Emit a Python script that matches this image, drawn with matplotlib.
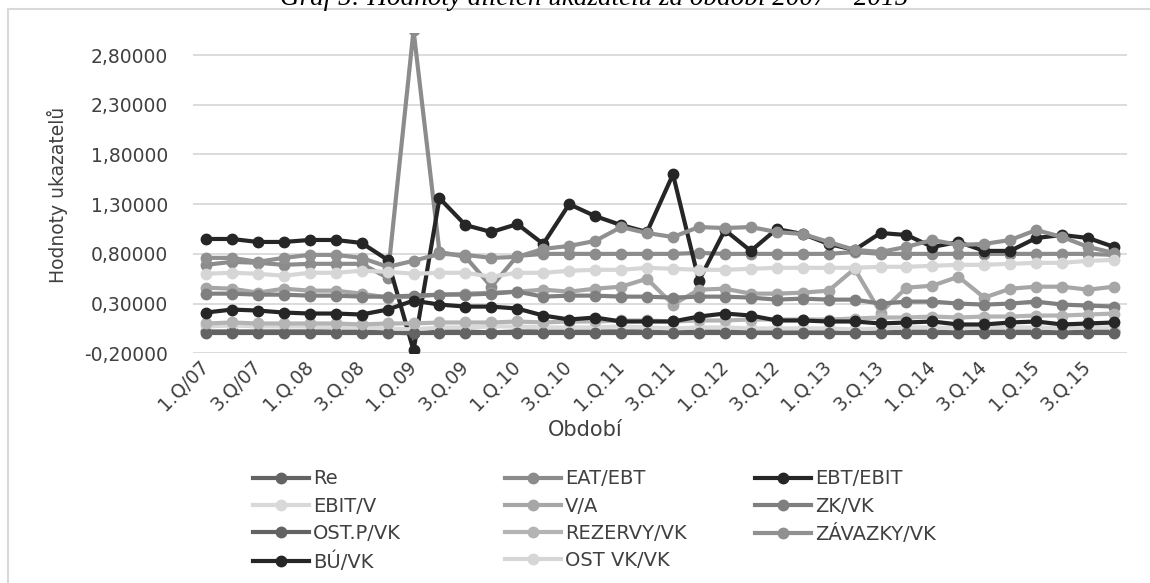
import matplotlib
matplotlib.use('Agg')
import matplotlib.pyplot as plt
from matplotlib.ticker import FuncFormatter
from matplotlib.patches import Rectangle
import numpy as np

# Quarters 2007 - 2015
periods = ['1.Q/07', '2.Q/07', '3.Q/07', '4.Q/07',
           '1.Q.08', '2.Q.08', '3.Q.08', '4.Q.08',
           '1.Q.09', '2.Q.09', '3.Q.09', '4.Q.09',
           '1.Q.10', '2.Q.10', '3.Q.10', '4.Q.10',
           '1.Q.11', '2.Q.11', '3.Q.11', '4.Q.11',
           '1.Q.12', '2.Q.12', '3.Q.12', '4.Q.12',
           '1.Q.13', '2.Q.13', '3.Q.13', '4.Q.13',
           '1.Q.14', '2.Q.14', '3.Q.14', '4.Q.14',
           '1.Q.15', '2.Q.15', '3.Q.15', '4.Q.15']

re = [0.02, 0.02, 0.02, 0.02, 0.02, 0.02, 0.02, 0.01, 0.00, 0.02, 0.02, 0.01,
      0.02, 0.02, 0.02, 0.02, 0.02, 0.02, 0.01, 0.02, 0.02, 0.02, 0.02, 0.02,
      0.02, 0.01, 0.01, 0.02, 0.02, 0.01, 0.02, 0.02, 0.02, 0.01, 0.02, 0.02]
eat_ebt = [0.69, 0.72, 0.71, 0.69, 0.70, 0.70, 0.70, 0.56, 3.05, 0.82, 0.77, 0.47,
           0.78, 0.80, 0.80, 0.80, 0.80, 0.80, 0.80, 0.81, 0.80, 0.80, 0.80, 0.80,
           0.80, 0.82, 0.80, 0.80, 0.80, 0.80, 0.80, 0.80, 0.80, 0.80, 0.80, 0.79]
ebt_ebit = [0.95, 0.95, 0.92, 0.92, 0.94, 0.94, 0.91, 0.74, -0.17, 1.36, 1.09, 1.02,
            1.10, 0.90, 1.30, 1.18, 1.09, 1.02, 1.60, 0.53, 1.04, 0.83, 1.05, 1.00,
            0.90, 0.84, 1.01, 0.99, 0.87, 0.92, 0.83, 0.83, 0.96, 0.99, 0.96, 0.87]
ebit_v = [0.07, 0.08, 0.07, 0.07, 0.07, 0.06, 0.06, 0.05, 0.04, 0.06, 0.06, 0.07,
          0.07, 0.06, 0.06, 0.06, 0.07, 0.06, 0.05, 0.06, 0.06, 0.05, 0.05, 0.05,
          0.05, 0.04, 0.05, 0.06, 0.06, 0.05, 0.06, 0.06, 0.06, 0.05, 0.06, 0.06]
v_a = [0.46, 0.45, 0.41, 0.45, 0.43, 0.43, 0.40, 0.36, 0.37, 0.39, 0.40, 0.41,
       0.42, 0.44, 0.42, 0.45, 0.47, 0.55, 0.29, 0.44, 0.45, 0.40, 0.40, 0.41,
       0.43, 0.65, 0.21, 0.46, 0.48, 0.57, 0.36, 0.45, 0.47, 0.47, 0.44, 0.47]
zk_vk = [0.40, 0.40, 0.39, 0.39, 0.38, 0.38, 0.37, 0.37, 0.38, 0.39, 0.39, 0.40,
         0.42, 0.37, 0.38, 0.38, 0.37, 0.37, 0.36, 0.37, 0.37, 0.36, 0.34, 0.35,
         0.34, 0.34, 0.30, 0.32, 0.32, 0.30, 0.29, 0.30, 0.32, 0.29, 0.28, 0.27]
ost_p_vk = [0.00, 0.00, 0.00, 0.00, 0.00, 0.00, 0.00, 0.00, 0.00, 0.00, 0.00, 0.00,
            0.00, 0.00, 0.00, 0.00, 0.00, 0.00, 0.00, 0.00, 0.00, 0.00, 0.00, 0.00,
            0.00, 0.00, 0.00, 0.00, 0.00, 0.00, 0.00, 0.00, 0.00, 0.00, 0.00, 0.00]
rezervy_vk = [0.10, 0.11, 0.10, 0.10, 0.10, 0.10, 0.09, 0.10, 0.10, 0.11, 0.11, 0.11,
              0.12, 0.11, 0.12, 0.12, 0.13, 0.13, 0.12, 0.13, 0.13, 0.14, 0.14, 0.14,
              0.14, 0.15, 0.16, 0.16, 0.17, 0.16, 0.17, 0.17, 0.18, 0.18, 0.19, 0.20]
zavazky_vk = [0.76, 0.76, 0.72, 0.76, 0.79, 0.79, 0.76, 0.67, 0.73, 0.80, 0.79, 0.76,
              0.77, 0.85, 0.88, 0.93, 1.07, 1.01, 0.97, 1.07, 1.06, 1.07, 1.02, 1.00,
              0.92, 0.84, 0.82, 0.87, 0.94, 0.89, 0.90, 0.94, 1.04, 0.97, 0.87, 0.81]
bu_vk = [0.21, 0.24, 0.23, 0.21, 0.20, 0.20, 0.19, 0.24, 0.33, 0.29, 0.27, 0.27,
         0.25, 0.18, 0.14, 0.16, 0.12, 0.12, 0.12, 0.17, 0.20, 0.18, 0.13, 0.13,
         0.12, 0.12, 0.10, 0.11, 0.12, 0.09, 0.09, 0.11, 0.12, 0.09, 0.10, 0.11]
ost_vk_vk = [0.60, 0.61, 0.60, 0.58, 0.61, 0.61, 0.63, 0.62, 0.60, 0.61, 0.61, 0.57,
             0.61, 0.61, 0.63, 0.64, 0.64, 0.66, 0.65, 0.64, 0.64, 0.65, 0.66, 0.66,
             0.66, 0.66, 0.67, 0.67, 0.68, 0.69, 0.69, 0.70, 0.71, 0.71, 0.73, 0.74]

names = ['Re', 'EAT/EBT', 'EBT/EBIT', 'EBIT/V', 'V/A', 'ZK/VK',
         'OST.P/VK', 'REZERVY/VK', 'ZÁVAZKY/VK', 'BÚ/VK', 'OST VK/VK']
values = [re, eat_ebt, ebt_ebit, ebit_v, v_a, zk_vk,
          ost_p_vk, rezervy_vk, zavazky_vk, bu_vk, ost_vk_vk]
colors = ['#636363', '#8c8c8c', '#262626', '#d9d9d9', '#a6a6a6', '#7f7f7f',
          '#636363', '#b4b4b4', '#909090', '#262626', '#d6d6d6']

text_color = '#404040'
W, H = 1150, 583

fig = plt.figure(figsize=(W / 100, H / 100), dpi=100, facecolor='white')
ax = fig.add_axes([193 / W, 1 - 353.3 / H, 934 / W, 320.1 / H])

x = np.arange(len(periods))
for name, vals, col in zip(names, values, colors):
    ax.plot(x, vals, color=col, lw=3, marker='o', ms=7.5, label=name,
            solid_joinstyle='round')

ax.set_xlim(-0.5, len(periods) - 0.5)
ax.set_ylim(-0.2, 3.02)
ax.set_yticks(np.arange(-0.2, 2.81, 0.5))
ax.yaxis.set_major_formatter(FuncFormatter(lambda v, p: f'{v:.5f}'.replace('.', ',')))
ax.set_xticks(x[::2])
ax.set_xticklabels(periods[::2], rotation=45, ha='right', va='center',
                   rotation_mode='anchor')

ax.yaxis.grid(True, color='#d9d9d9', lw=1.3)
ax.set_axisbelow(True)
for s in ax.spines.values():
    s.set_visible(False)
ax.tick_params(axis='y', length=0, pad=18, labelsize=13.5, labelcolor=text_color)
ax.tick_params(axis='x', length=0, pad=7, labelsize=13.5, labelcolor=text_color)

# axis titles
fig.text(57 / W, 1 - 195 / H, 'Hodnoty ukazatelů', rotation=90, ha='center',
         va='center', fontsize=13.5, color=text_color)
fig.text(585 / W, 1 - 430 / H, 'Období', ha='center', va='center',
         fontsize=15, color=text_color)

# title, cut by the top edge like in the source
fig.text(594 / W, 1 - 5 / H, 'Graf 5: Hodnoty dílčích ukazatelů za období 2007 – 2015',
         ha='center', va='baseline', fontsize=19.5, style='italic',
         family='Liberation Serif', color='black')

# chart frame
fig.add_artist(Rectangle((8 / W, -0.1), 1.2, 1.1 - 9.5 / H, transform=fig.transFigure,
                         fill=False, ec='#d9d9d9', lw=1.5, clip_on=False))

# legend, filled row by row in three columns
handles, labels = ax.get_legend_handles_labels()
col_x = [253, 505, 755]
for c in range(3):
    leg = fig.legend(handles[c::3], labels[c::3], loc='upper left',
                     bbox_to_anchor=(col_x[c] / W, 1 - 469.5 / H),
                     frameon=False, fontsize=14, handlelength=2.9,
                     handletextpad=0.2, labelspacing=0.42, borderpad=0,
                     borderaxespad=0, labelcolor=text_color)

fig.savefig('out.png', dpi=100, facecolor='white')
